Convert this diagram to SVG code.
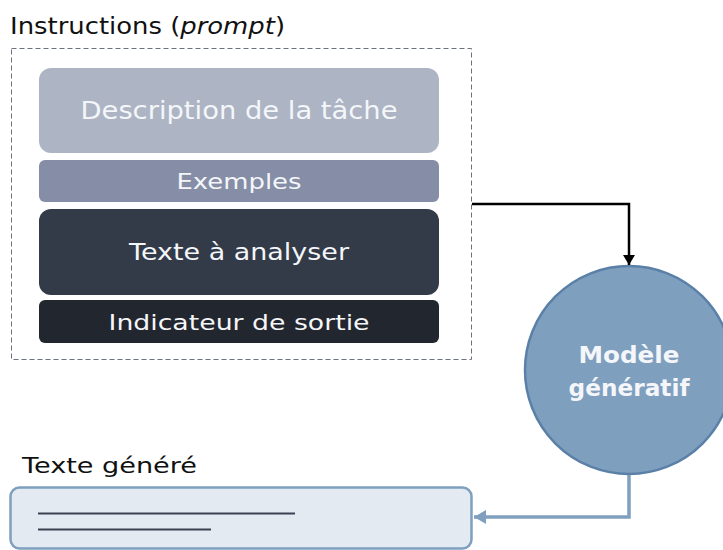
<svg xmlns="http://www.w3.org/2000/svg" width="723" height="550" viewBox="0 0 723 550">
<defs>
<style>
.t{font-family:"DejaVu Sans","Liberation Sans",sans-serif;text-anchor:middle;fill:#f4f6f9}
.lbl{font-family:"DejaVu Sans","Liberation Sans",sans-serif;fill:#111}
</style>
<marker id="arrowK" markerWidth="12" markerHeight="12" refX="10" refY="6" orient="auto" markerUnits="userSpaceOnUse">
<path d="M0,0 L10,6 L0,12 Z" fill="#000"/>
</marker>
<marker id="arrowB" markerWidth="14" markerHeight="14" refX="12" refY="7" orient="auto" markerUnits="userSpaceOnUse">
<path d="M0,0 L12,7 L0,14 Z" fill="#7f9fbf"/>
</marker>
</defs>
<rect width="723" height="550" fill="#fff"/>
<g id="prompt">
<text class="lbl" x="10" y="34" font-size="23" textLength="275" lengthAdjust="spacingAndGlyphs">Instructions (<tspan font-style="italic">prompt</tspan>)</text>
<rect x="11.5" y="48.5" width="460" height="311" fill="none" stroke="#6b7280" stroke-width="1" stroke-dasharray="5 3"/>
</g>
<g id="description">
<rect x="39" y="68" width="400" height="85" rx="12" fill="#adb4c4"/>
<text class="t" x="239" y="119" font-size="24" textLength="317" lengthAdjust="spacingAndGlyphs">Description de la tâche</text>
</g>
<g id="exemples">
<rect x="39" y="160" width="400" height="42" rx="6" fill="#858ea6"/>
<text class="t" x="239" y="189" font-size="21" textLength="125" lengthAdjust="spacingAndGlyphs">Exemples</text>
</g>
<g id="texte">
<rect x="39" y="209" width="400" height="86" rx="12" fill="#333a48"/>
<text class="t" x="239" y="260" font-size="23" textLength="220" lengthAdjust="spacingAndGlyphs">Texte à analyser</text>
</g>
<g id="indicateur">
<rect x="39" y="300" width="400" height="43" rx="6" fill="#22262e"/>
<text class="t" x="239" y="330" font-size="22" textLength="261" lengthAdjust="spacingAndGlyphs">Indicateur de sortie</text>
</g>
<g id="modele">
<circle cx="629" cy="370" r="104" fill="#7f9fbf" stroke="#5b80a8" stroke-width="2.5"/>
<text class="t" x="629" y="363" font-size="23" font-weight="bold" textLength="101" lengthAdjust="spacingAndGlyphs">Modèle</text>
<text class="t" x="629" y="396" font-size="23" font-weight="bold" textLength="121" lengthAdjust="spacingAndGlyphs">génératif</text>
</g>
<g id="sortie">
<text class="lbl" x="22" y="473" font-size="22" textLength="175" lengthAdjust="spacingAndGlyphs">Texte généré</text>
<rect x="10.5" y="487.5" width="461" height="61" rx="9" fill="#e4eaf2" stroke="#7f9fbf" stroke-width="2.5"/>
<line x1="38" y1="513.5" x2="295" y2="513.5" stroke="#3a4252" stroke-width="2"/>
<line x1="38" y1="529.5" x2="211" y2="529.5" stroke="#3a4252" stroke-width="2"/>
</g>
<g id="connectors">
<polyline points="472,204 629,204 629,265" fill="none" stroke="#000" stroke-width="2.5" marker-end="url(#arrowK)"/>
<polyline points="629,475 629,517 474,517" fill="none" stroke="#7f9fbf" stroke-width="3.5" marker-end="url(#arrowB)"/>
</g>
</svg>
